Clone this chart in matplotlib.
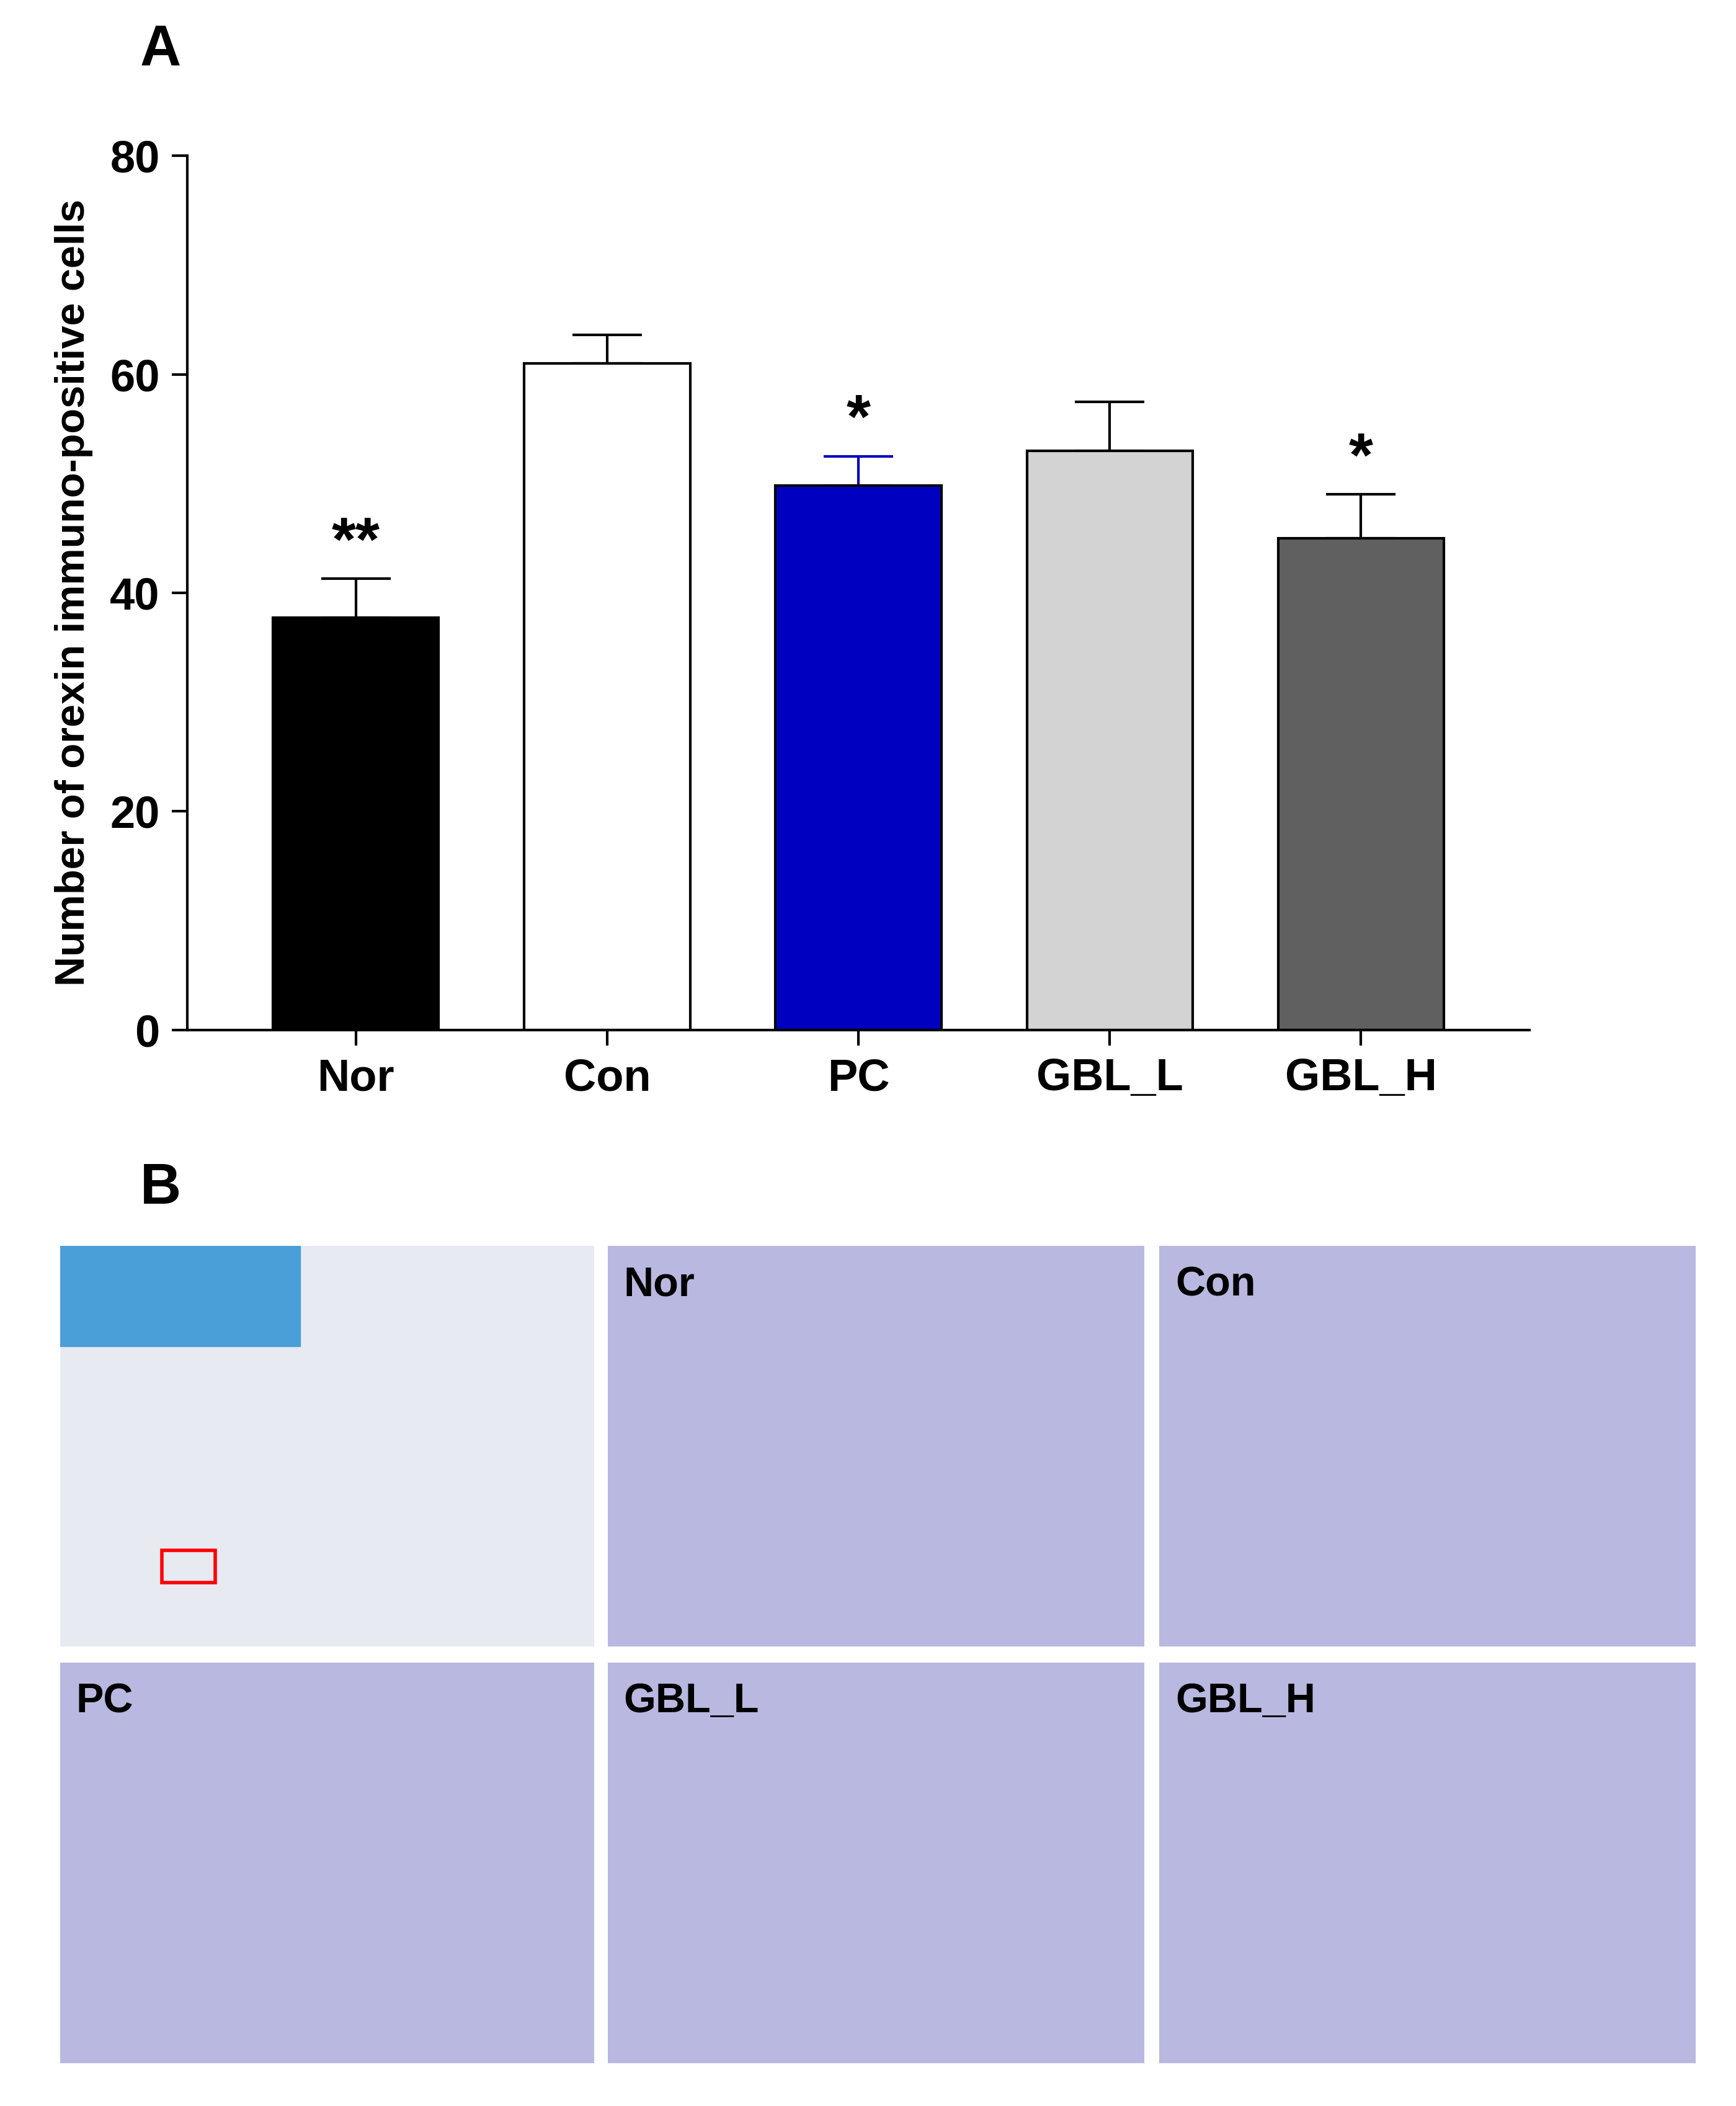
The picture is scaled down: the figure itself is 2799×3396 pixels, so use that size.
import matplotlib
matplotlib.use("Agg")
import matplotlib.pyplot as plt
from matplotlib.patches import Rectangle

groups = ["Nor", "Con", "PC", "GBL_L", "GBL_H"]
means = [37.7, 61.0, 49.8, 53.0, 45.0]
errors = [3.6, 2.6, 2.7, 4.5, 4.0]
colors = ["#000000", "#ffffff", "#0000c0", "#d3d3d3", "#606060"]
errcolors = ["#000000", "#000000", "#0000c0", "#000000", "#000000"]
stars = ["**", "", "*", "", "*"]
yticks = [0, 20, 40, 60, 80]
panel_labels = ["", "Nor", "Con", "PC", "GBL_L", "GBL_H"]

W, H = 2799, 3396
fig = plt.figure(figsize=(W/100, H/100), dpi=100)
plt.rcParams['font.family'] = ['Liberation Sans', 'DejaVu Sans']

ax = fig.add_axes([0.108, 0.511, 0.773, 0.415])
x = list(range(len(groups)))
for i in x:
    ax.bar(i, means[i], width=0.66, color=colors[i], edgecolor="black", linewidth=3, zorder=2)
    ax.errorbar(i, means[i], yerr=[[0], [errors[i]]], ecolor=errcolors[i], elinewidth=3,
                capsize=40, capthick=3, fmt="none", zorder=1)
    if stars[i]:
        ax.text(i, means[i] + errors[i] + 0.5, stars[i], ha="center", va="bottom",
                fontsize=72, fontweight="bold")
ax.set_ylim(0, 80)
ax.set_xlim(-0.67, 4.67)
ax.set_yticks(yticks)
ax.set_xticks(x)
ax.set_xticklabels(groups)
for s in ["top", "right"]:
    ax.spines[s].set_visible(False)
for s in ["left", "bottom"]:
    ax.spines[s].set_linewidth(3)
ax.tick_params(width=3, length=18, labelsize=52, pad=14)
for lab in ax.get_xticklabels() + ax.get_yticklabels():
    lab.set_fontweight("bold")
ax.set_ylabel("Number of orexin immuno-positive cells", fontsize=48, fontweight="bold", labelpad=20)

fig.text(105/1300, 1-38/1577, "A", fontsize=66, fontweight="bold", va="center")
fig.text(105/1300, 1-890/1577, "B", fontsize=66, fontweight="bold", va="center")

cols = [(45, 445), (455, 857), (868, 1270)]
rows = [(933, 1233), (1245, 1545)]
k = 0
for (y0, y1) in rows:
    for (x0, x1) in cols:
        fx0, fx1 = x0/1300, x1/1300
        fy0, fy1 = 1-y1/1577, 1-y0/1577
        a = fig.add_axes([fx0, fy0, fx1-fx0, fy1-fy0])
        a.set_xticks([]); a.set_yticks([])
        for s in a.spines.values():
            s.set_visible(False)
        a.set_facecolor("#e8eaf2" if k == 0 else "#b8b8e0")
        if panel_labels[k]:
            a.text(0.03, 0.95, panel_labels[k], transform=a.transAxes, fontsize=48,
                   fontweight="bold", va="top", ha="left")
        else:
            a.add_patch(Rectangle((0.0, 0.75), 0.45, 0.25, color="#4a9fd8", transform=a.transAxes))
            a.add_patch(Rectangle((0.19, 0.16), 0.1, 0.08, fill=False, edgecolor="red",
                                  linewidth=4, transform=a.transAxes))
        k += 1

fig.savefig("out.png", dpi=100)
